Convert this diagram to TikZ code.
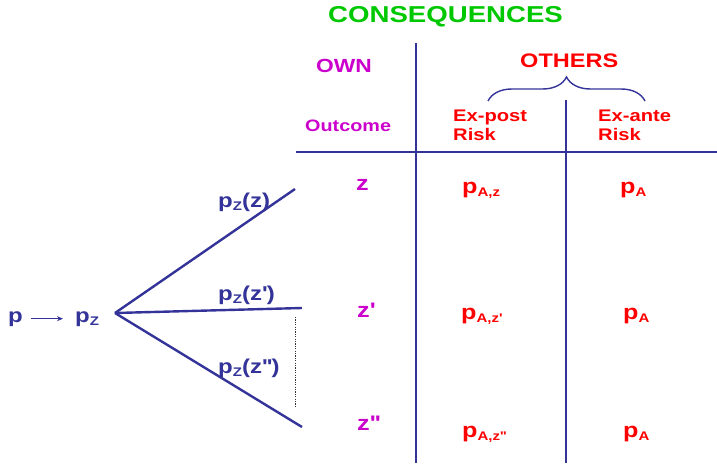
\documentclass[tikz,border=0pt]{standalone}
\usepackage{fontspec}
\usepackage{graphicx}
\setmainfont{Liberation Sans}[FakeStretch=1.2]
\usetikzlibrary{decorations.pathreplacing,arrows.meta}
\definecolor{navy}{HTML}{333399}
\definecolor{magen}{HTML}{CC00CC}
\definecolor{redc}{HTML}{FF0000}
\definecolor{greenc}{HTML}{00C800}
\newcommand{\lowsub}[1]{\raisebox{-3pt}{\fontsize{12.5}{13}\selectfont #1}}
\newcommand{\sq}{\textquotesingle}
\tikzset{
  txt/.style={anchor=base west, inner sep=0pt, font=\bfseries},
  big/.style={font=\fontsize{21}{24}\selectfont\bfseries},
  tree/.style={txt, text=navy, font=\fontsize{20}{24}\selectfont\bfseries},
  rule/.style={draw=navy, line width=2pt},
  branch/.style={draw=navy, line width=2.4pt},
}
\begin{document}
\begin{tikzpicture}[x=1pt, y=-1pt]
\useasboundingbox (0,0) rectangle (717,463);

% header texts
\node[txt, text=greenc, font=\fontsize{23}{26}\selectfont\bfseries] (cons) at (328,23) {CONSEQUENCES};
\node[txt, text=magen, font=\fontsize{19}{22}\selectfont\bfseries] (own) at (316,72) {OWN};
\node[txt, text=redc, font=\fontsize{19.6}{22}\selectfont\bfseries] (others) at (520,67) {OTHERS};
\node[txt, text=magen, font=\fontsize{16.5}{19}\selectfont\bfseries] (outcome) at (305,131) {Outcome};
\node[txt, text=redc, font=\fontsize{16.8}{19}\selectfont\bfseries] (expost) at (453,121) {Ex-post};
\node[txt, text=redc, font=\fontsize{16.8}{19}\selectfont\bfseries] (risk1) at (453,140) {Risk};
\node[txt, text=redc, font=\fontsize{16.8}{19}\selectfont\bfseries] (exante) at (598,121) {Ex-ante};
\node[txt, text=redc, font=\fontsize{16.8}{19}\selectfont\bfseries] (risk2) at (598,140) {Risk};

% table lines
\coordinate (h1) at (296,152);
\coordinate (h2) at (717,152);
\coordinate (v1t) at (416,43);
\coordinate (v1b) at (416,463);
\coordinate (v2t) at (566,100);
\coordinate (v2b) at (566,463);
\draw[rule] (h1) -- (h2);
\draw[rule] (v1t) -- (v1b);
\draw[rule] (v2t) -- (v2b);

% brace
\coordinate (bl) at (488,101);
\coordinate (br) at (645,101);
\draw[navy, line width=1.4pt, decorate, decoration={brace, amplitude=24pt, aspect=0.5}] (bl) -- (br);

% own column
\node[txt, text=magen, big] (z1) at (356,190) {z};
\node[txt, text=magen, big] (z2) at (357,317) {z\sq};
\node[txt, text=magen, big] (z3) at (357,430) {z\sq\sq};

% ex-post column
\node[txt, text=redc, big] (pa1) at (462,193) {p\lowsub{A,z}};
\node[txt, text=redc, big] (pa2) at (461,319) {p\lowsub{A,z\sq}};
\node[txt, text=redc, big] (pa3) at (462,437) {p\lowsub{A,z\sq\sq}};

% ex-ante column
\node[txt, text=redc, big] (pb1) at (620,193) {p\lowsub{A}};
\node[txt, text=redc, big] (pb2) at (623,319) {p\lowsub{A}};
\node[txt, text=redc, big] (pb3) at (623,437) {p\lowsub{A}};

% tree
\node[tree] (p) at (8,322) {p};
\node[tree] (pz) at (75,322) {p\lowsub{Z}};
\draw[navy, line width=1.3pt, -{Stealth[length=6pt,width=5pt]}, shorten <=8pt, shorten >=12pt] (p.east) -- (p.east -| pz.west);

\coordinate (root) at (115,313);
\coordinate (e1) at (295,189);
\coordinate (e2) at (302,308);
\coordinate (e3) at (302,427);
\draw[branch] (root) -- (e1);
\draw[branch] (root) -- (e2);
\draw[branch] (root) -- (e3);

\node[tree] (l1) at (218,207) {p\lowsub{Z}(z)};
\node[tree] (l2) at (218,300) {p\lowsub{Z}(z\sq)};
\node[tree] (l3) at (218,373) {p\lowsub{Z}(z\sq\sq)};

\coordinate (d1) at (295,317);
\coordinate (d2) at (295,408);
\draw[black!80, line width=1pt, dash pattern=on 1.2pt off 1.2pt] (d1) -- (d2);
\end{tikzpicture}
\end{document}
